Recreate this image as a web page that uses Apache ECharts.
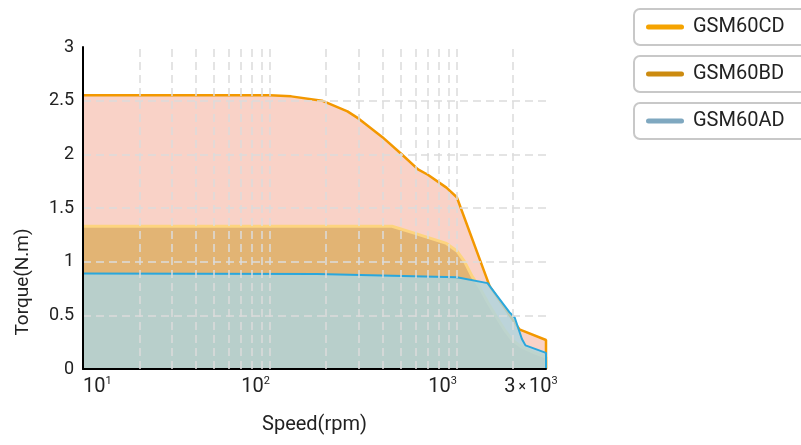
<!DOCTYPE html>
<html><head><meta charset="utf-8">
<script src="https://cdn.jsdelivr.net/npm/echarts@6/dist/echarts.min.js"></script>
<style>html,body{margin:0;padding:0;background:#fff}#c{width:801px;height:445px}</style>
</head><body><div id="c"></div>
<script>
const seriesNames = ['GSM60CD', 'GSM60BD', 'GSM60AD'];
const cdSpeed  = [10, 100, 130, 190, 260, 300, 400, 500, 620, 700, 880, 1000, 1500, 2160, 3000, 3000];
const cdTorque = [2.55, 2.55, 2.54, 2.5, 2.4, 2.33, 2.16, 2.01, 1.86, 1.81, 1.69, 1.6, 0.77, 0.37, 0.27, 0];
const bdSpeed  = [10, 100, 450, 580, 880, 1000, 1100, 1210, 1320, 1460, 1630, 1800, 1980, 2220, 2600, 3000, 3000];
const bdTorque = [1.33, 1.33, 1.33, 1.27, 1.17, 1.1, 1.0, 0.86, 0.765, 0.625, 0.485, 0.365, 0.27, 0.205, 0.15, 0.11, 0];
const adSpeed  = [10, 180, 1000, 1460, 1550, 1910, 2040, 2230, 2330, 3000, 3000];
const adTorque = [0.89, 0.885, 0.855, 0.80, 0.74, 0.53, 0.48, 0.28, 0.22, 0.15, 0];
const gridSpeeds = [20, 30, 40, 50, 60, 70, 80, 90, 100, 200, 300, 400, 500, 600, 700, 800, 900, 1000, 2000];
const yTicks = [0, 0.5, 1, 1.5, 2, 2.5, 3];

const lineColors = ['#F39800', '#FDD47F', '#2AA7DC'];
const areaColors = ['rgba(238,130,100,0.36)', 'rgba(210,160,60,0.6)', 'rgba(175,212,222,0.82)'];
const legendColors = ['#F5A300', '#CC8B10', '#7FA8C0'];
const lineWidths = [2.5, 3, 2];

const pairs = (xs, ys) => xs.map((x, i) => [x, ys[i]]);
const datasets = [pairs(cdSpeed, cdTorque), pairs(bdSpeed, bdTorque), pairs(adSpeed, adTorque)];

const FONT = 'Roboto';
const chart = echarts.init(document.getElementById('c'));

const series = seriesNames.map((name, i) => ({
  name, type: 'line', data: datasets[i], symbol: 'none',
  lineStyle: { color: lineColors[i], width: lineWidths[i] },
  itemStyle: { color: lineColors[i] },
  areaStyle: { color: areaColors[i], opacity: 1 },
  z: 2 + i,
  animation: false
}));
series[0].markLine = {
  silent: true, symbol: ['none', 'none'], z: 8, animation: false,
  label: { show: false },
  lineStyle: { color: '#dcdcdc', type: [8, 5], width: 1.5 },
  data: gridSpeeds.map(v => ({ xAxis: v }))
};

const legendTops = [9, 56, 103];
const legends = seriesNames.map((name, i) => ({
  data: [{ name, itemStyle: { color: legendColors[i] } }],
  left: 634, top: legendTops[i], orient: 'horizontal',
  selectedMode: false,
  icon: 'path://M2.5,0 H35.5 A2.5,2.5 0 0 1 35.5,5 H2.5 A2.5,2.5 0 0 1 2.5,0 Z',
  itemWidth: 38, itemHeight: 5,
  borderColor: '#c8c8c8', borderWidth: 2, borderRadius: 6,
  padding: [8, 70, 8, 12],
  textStyle: { fontSize: 20, color: '#222', fontFamily: FONT, padding: [0, 0, 0, 4] }
}));

chart.setOption({
  backgroundColor: '#fff',
  animation: false,
  grid: { left: 83, right: 255, top: 47, bottom: 76, containLabel: false },
  legend: legends,
  xAxis: {
    type: 'log', logBase: 10, min: 10, max: 3000, z: 6,
    name: 'Speed(rpm)', nameLocation: 'middle', nameGap: 46,
    nameTextStyle: { fontSize: 20, color: '#222', fontFamily: FONT },
    axisLine: { show: true, lineStyle: { color: '#000', width: 2 } },
    axisTick: { show: false },
    splitLine: { show: false },
    axisLabel: {
      color: '#222', fontFamily: FONT, margin: 7,
      align: 'right', alignMinLabel: 'left', alignMaxLabel: 'center',
      formatter: function (v) {
        if (Math.abs(v - 3000) < 1) return '{b|3}{x|×}{b|10}{sl|3}';
        const e = Math.round(Math.log10(v));
        return '{b|10}{s|' + e + '}';
      },
      rich: {
        b: { fontSize: 20, fontFamily: FONT, color: '#222', lineHeight: 22 },
        x: { fontSize: 14, fontFamily: FONT, color: '#222', padding: [0, 3, 0, 3], lineHeight: 22 },
        s: { fontSize: 11, fontFamily: FONT, color: '#222', verticalAlign: 'top', lineHeight: 22 },
        sl: { fontSize: 11, fontFamily: FONT, color: '#222', verticalAlign: 'top', lineHeight: 22, padding: [0, 30, 0, 0] }
      }
    }
  },
  yAxis: {
    type: 'value', min: yTicks[0], max: yTicks[yTicks.length - 1], interval: yTicks[1] - yTicks[0], z: 6,
    name: 'Torque(N.m)', nameLocation: 'middle', nameGap: 50,
    nameTextStyle: { fontSize: 19, color: '#222', fontFamily: FONT, padding: [0, 148, 0, 0] },
    axisLine: { show: true, lineStyle: { color: '#000', width: 2 } },
    axisTick: { show: false },
    axisLabel: { fontSize: 18, color: '#222', fontFamily: FONT, margin: 9 },
    splitLine: { show: true, showMaxLine: false, showMinLine: false, lineStyle: { color: '#dcdcdc', type: [8, 5], width: 1.5 } }
  },
  series
});
</script></body></html>
